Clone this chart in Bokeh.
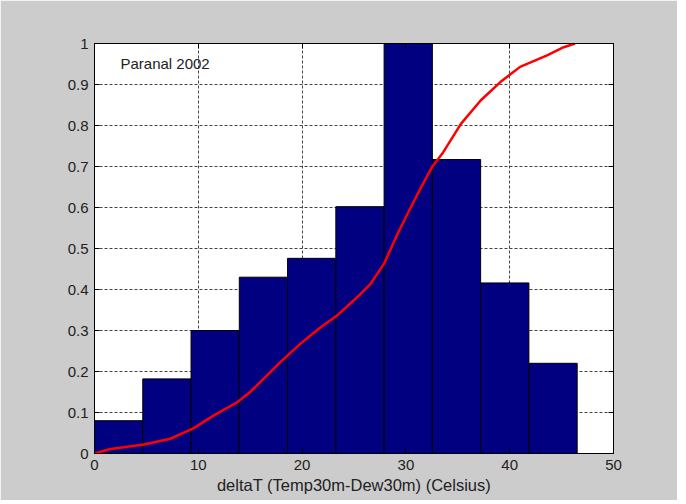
from bokeh.plotting import figure
from bokeh.models import Range1d, FixedTicker, LinearAxis, Label
from bokeh.embed import file_html
from bokeh.resources import INLINE

# ---- data ----
bin_edges = [0, 4.65, 9.3, 13.95, 18.6, 23.25, 27.9, 32.55, 37.2, 41.85, 46.5]
bar_heights = [0.08, 0.182, 0.30, 0.43, 0.476, 0.602, 1.0, 0.717, 0.416, 0.22]

cdf_x = [0, 1.54, 4.75, 7.32, 9.57, 11.5, 13.75, 15.0, 16.6, 17.9, 19.85, 21.8,
         23.4, 25.3, 26.6, 27.9, 29.2, 30.4, 31.4, 32.5, 33.6, 35.3, 37.2, 39.1,
         41.0, 43.6, 45.2, 46.3]
cdf_y = [0, 0.011, 0.022, 0.036, 0.062, 0.093, 0.125, 0.15, 0.19, 0.223, 0.268, 0.308,
         0.337, 0.381, 0.414, 0.463, 0.536, 0.597, 0.646, 0.698, 0.735, 0.804, 0.861, 0.906,
         0.943, 0.971, 0.991, 1.0]

x_ticks = [0, 10, 20, 30, 40, 50]
y_ticks = [0, 0.1, 0.2, 0.3, 0.4, 0.5, 0.6, 0.7, 0.8, 0.9, 1]
y_tick_labels = ["0", "0.1", "0.2", "0.3", "0.4", "0.5", "0.6", "0.7", "0.8", "0.9", "1"]

annotation_text = "Paranal 2002"
x_label = "deltaT (Temp30m-Dew30m) (Celsius)"

FONT = "Liberation Sans"
TXT = "#222222"

p = figure(width=677, height=500, output_backend="svg", toolbar_location=None,
           x_range=Range1d(0, 50), y_range=Range1d(0, 1),
           min_border_left=94, min_border_right=64, min_border_top=43, min_border_bottom=47)
p.border_fill_color = "#CCCCCC"
p.background_fill_color = "white"
p.outline_line_color = "black"
p.outline_line_width = 1

# bars
p.quad(left=bin_edges[:-1], right=bin_edges[1:], bottom=0, top=bar_heights,
       fill_color="#000080", line_color="black", line_width=1)

# cumulative curve
p.line(cdf_x, cdf_y, line_color="red", line_width=2.5)

# axes
for ax in (p.xaxis[0], p.yaxis[0]):
    ax.major_tick_in = 5
    ax.major_tick_out = 0
    ax.minor_tick_in = 0
    ax.minor_tick_out = 0
    ax.axis_line_color = "black"
    ax.major_tick_line_color = "black"
    ax.major_label_text_font = FONT
    ax.major_label_text_font_size = "15px"
    ax.major_label_text_color = TXT
    ax.major_label_standoff = 6

p.xaxis[0].ticker = FixedTicker(ticks=x_ticks)
p.yaxis[0].ticker = FixedTicker(ticks=y_ticks)
p.yaxis[0].major_label_overrides = {t: l for t, l in zip(y_ticks, y_tick_labels)}
p.xaxis[0].axis_label = x_label
p.xaxis[0].axis_label_text_font = FONT
p.xaxis[0].axis_label_text_font_size = "16.5px"
p.xaxis[0].axis_label_text_font_style = "normal"
p.xaxis[0].axis_label_text_color = TXT
p.xaxis[0].axis_label_standoff = 3

# box ticks on top and right (no labels)
top_ax = LinearAxis(ticker=FixedTicker(ticks=x_ticks), major_tick_in=5, major_tick_out=0,
                    minor_tick_in=0, minor_tick_out=0,
                    major_label_overrides={t: "" for t in x_ticks}, major_label_standoff=0)
right_ax = LinearAxis(ticker=FixedTicker(ticks=y_ticks), major_tick_in=5, major_tick_out=0,
                      minor_tick_in=0, minor_tick_out=0,
                      major_label_overrides={t: "" for t in y_ticks}, major_label_standoff=0)
p.add_layout(top_ax, "above")
p.add_layout(right_ax, "right")

# grid
for g in (p.xgrid[0], p.ygrid[0]):
    g.grid_line_color = "#444444"
    g.grid_line_dash = "3 2"
    g.grid_line_width = 1
p.xgrid[0].ticker = FixedTicker(ticks=x_ticks)
p.ygrid[0].ticker = FixedTicker(ticks=y_ticks)

p.add_layout(Label(x=2.5, y=0.951, text=annotation_text, text_font=FONT,
                   text_font_size="15px", text_color=TXT, text_baseline="middle"))

open("out.html", "w").write(file_html(p, INLINE))
